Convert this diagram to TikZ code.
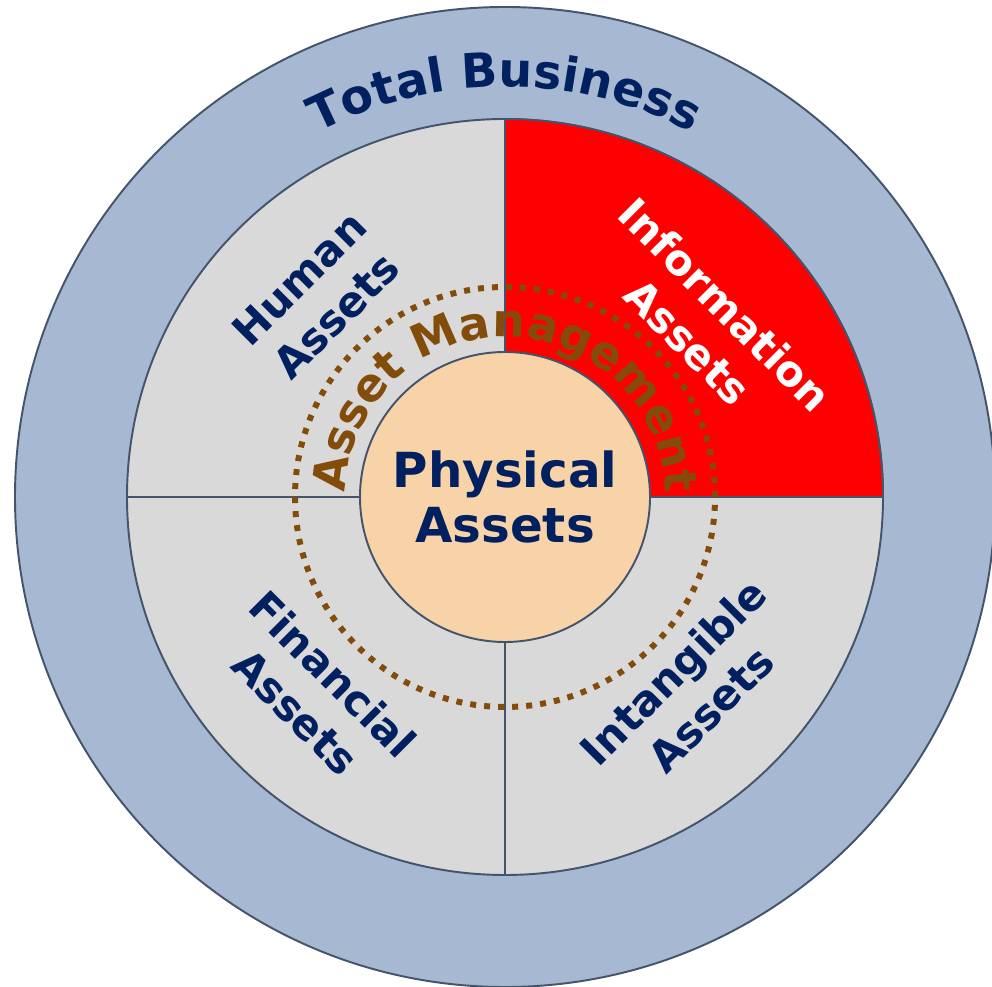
\documentclass[tikz,border=0pt]{standalone}
\usepackage{fontspec}
\setmainfont{DejaVu Sans}
\usetikzlibrary{decorations.text}

\definecolor{bizblue}{HTML}{A6B8D2}
\definecolor{edgeblue}{HTML}{44546A}
\definecolor{ringgray}{HTML}{D9D9D9}
\definecolor{peach}{HTML}{F8D3A8}
\definecolor{navy}{HTML}{002060}
\definecolor{mgmtbrown}{HTML}{844C0A}

\begin{document}
\begin{tikzpicture}
		\useasboundingbox (0,0) rectangle (19.84,19.72);
		\coordinate (c) at (10.1,9.78);

		\begin{scope}[every node/.style={circle,draw=edgeblue,line width=1.1pt,inner sep=0pt,outer sep=0pt}]
			\node[fill=bizblue,minimum size=19.6cm] (business) at (c) {};
			\node[fill=ringgray,minimum size=15.12cm] (ring) at (c) {};
		\end{scope}

		\fill[red] (c) -- (ring.east) arc (0:90:7.56) -- cycle;
		\draw[edgeblue,line width=1.1pt] (ring.east) arc (0:90:7.56);

		\node[circle,draw=edgeblue,line width=1.1pt,fill=peach,minimum size=5.8cm,inner sep=0pt,outer sep=0pt,
			  align=center,text=navy,font=\bfseries\fontsize{27.5}{31}\selectfont] (physical) at (c) {Physical\\Assets};

		\begin{scope}[edgeblue,line width=1.1pt]
			\draw (ring.north) -- (physical.north);
			\draw (ring.south) -- (physical.south);
			\draw (ring.west) -- (physical.west);
			\draw (ring.east) -- (physical.east);
		\end{scope}

		\draw[mgmtbrown,line width=3.4pt,dash pattern=on 3.4pt off 4.59pt] (c) circle (4.2);

		% curved labels
		\path[decorate,decoration={text along path,text align=center,text color=navy,
			  text={|\bfseries\fontsize{27}{30}\selectfont|Total Business}}] (c) ++(160:8.2) arc (160:20:8.2);
		\path[decorate,decoration={text along path,text align=center,text color=mgmtbrown,
			  text={|\bfseries\fontsize{26}{30}\selectfont|Asset Management}}] (c) ++(200:3.2) arc (200:-20:3.2);

		% quadrant labels
		\begin{scope}[every node/.style={align=center,text=navy,font=\bfseries\fontsize{24}{30}\selectfont}]
			\node[rotate=45] (human) at (6.36,13.78) {Human\\Assets};
			\node[rotate=-45,text=white] (information) at (14.13,13.26) {Information\\Assets};
			\node[rotate=-45] (financial) at (6.29,5.86) {Financial\\Assets};
			\node[rotate=45] (intangible) at (13.84,5.92) {Intangible\\Assets};
		\end{scope}
\end{tikzpicture}
\end{document}
